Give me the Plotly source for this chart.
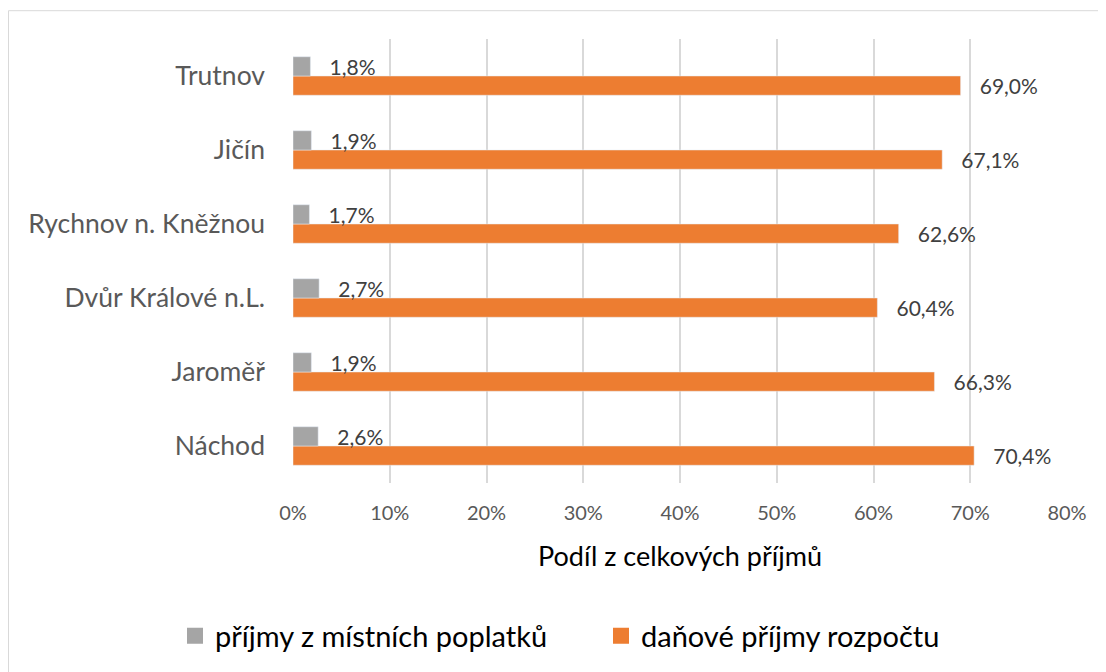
import plotly.graph_objects as go

# categories bottom -> top as drawn
mesta = ["Náchod", "Jaroměř", "Dvůr Králové n.L.", "Rychnov n. Kněžnou", "Jičín", "Trutnov"]
poplatky = [2.6, 1.9, 2.7, 1.7, 1.9, 1.8]
danove = [70.4, 66.3, 60.4, 62.6, 67.1, 69.0]
x_ticks = [0, 10, 20, 30, 40, 50, 60, 70, 80]
x_labels = [f"{v}%" for v in x_ticks]

FONT = "Lato, Open Sans, sans-serif"
GRAY_TXT = "#595959"
ORANGE = "#ED7D31"
GRAY = "#A5A5A5"

W, H = 1098, 664  # page body has an 8px margin
L, R, T, B = 285, 39, 31, 189
PW, PH = W - L - R, H - T - B


def fmt(v):
    return "\u00a0\u00a0\u00a0" + f"{v:.1f}".replace(".", ",") + "%"


fig = go.Figure()
fig.add_trace(go.Bar(
    y=mesta, x=danove, orientation="h", name="daňové příjmy rozpočtu",
    marker_color=ORANGE, text=[fmt(v) for v in danove],
    textposition="outside", cliponaxis=False, constraintext="none",
    textfont=dict(size=21, color="#404040", family=FONT),
    showlegend=False,
))
fig.add_trace(go.Bar(
    y=mesta, x=poplatky, orientation="h", name="příjmy z místních poplatků",
    marker_color=GRAY, text=[fmt(v) for v in poplatky],
    textposition="outside", cliponaxis=False, constraintext="none",
    textfont=dict(size=21, color="#404040", family=FONT),
    showlegend=False,
))
# legend entries with larger square symbols
for name, col in [("příjmy z místních poplatků", GRAY), ("daňové příjmy rozpočtu", ORANGE)]:
    fig.add_trace(go.Scatter(
        x=[None], y=[None], mode="markers", name=name,
        marker=dict(symbol="square", size=18, color=col),
    ))

fig.update_layout(
    width=W, height=H,
    margin=dict(l=L, r=R, t=T, b=B, autoexpand=False),
    barmode="group", bargap=0.48, bargroupgap=0,
    paper_bgcolor="white", plot_bgcolor="white",
    font=dict(family=FONT, color=GRAY_TXT),
    legend=dict(
        orientation="h",
        x=(167 - L) / PW, y=(H - B - 628) / PH,
        xanchor="left", yanchor="middle",
        font=dict(size=29, color="#000000", family=FONT),
        itemwidth=30, entrywidth=381, entrywidthmode="pixels",
        bgcolor="rgba(0,0,0,0)",
    ),
    shapes=[dict(
        type="rect", xref="paper", yref="paper",
        x0=(0.5 - L) / PW, x1=(W + 20 - L) / PW,
        y0=-(B + 20) / PH, y1=1 + (T - 2.7) / PH,
        line=dict(color="#d9d9d9", width=1), layer="below",
    )],
)
fig.update_xaxes(
    range=[0, 80], tickvals=x_ticks, ticktext=x_labels,
    showgrid=True, gridcolor="#d9d9d9", gridwidth=1.5,
    zeroline=False, showline=False, automargin=False,
    tickfont=dict(size=20, color=GRAY_TXT),
    ticklabelstandoff=16,
    title=dict(text="Podíl z celkových příjmů", font=dict(size=27, color="#000000"), standoff=24),
)
fig.update_yaxes(
    showgrid=False, showline=False, zeroline=False, automargin=False,
    tickfont=dict(size=26.5, color=GRAY_TXT),
    ticklabelstandoff=27,
)

fig.write_html("out.html")
